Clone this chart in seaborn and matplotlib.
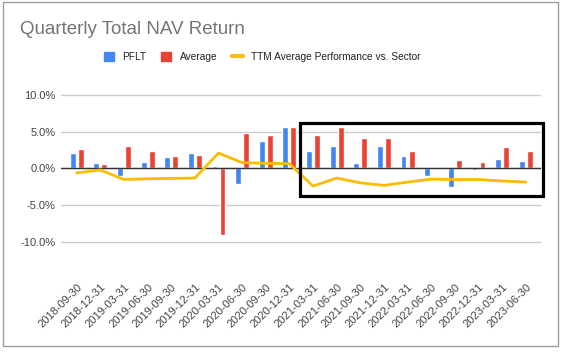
"""
Quarterly Total NAV Return - PFLT vs sector average
"""

import numpy as np
import pandas as pd
import matplotlib
matplotlib.use("Agg")
import matplotlib.pyplot as plt
import matplotlib.patches as mpatches
from matplotlib.lines import Line2D
from matplotlib.ticker import FuncFormatter
import seaborn as sns

BLUE = "#4285F4"
RED = "#EA4335"
YELLOW = "#FBBC04"
GRAY = "#444444"

quarters = ["2018-09-30", "2018-12-31", "2019-03-31", "2019-06-30", "2019-09-30",
            "2019-12-31", "2020-03-31", "2020-06-30", "2020-09-30", "2020-12-31",
            "2021-03-31", "2021-06-30", "2021-09-30", "2021-12-31", "2022-03-31",
            "2022-06-30", "2022-09-30", "2022-12-31", "2023-03-31", "2023-06-30"]
pflt = [2.1, 0.7, -1.0, 0.85, 1.55, 2.1, 0.3, -2.05, 3.7, 5.6,
        2.35, 3.1, 0.7, 3.05, 1.7, -1.0, -2.5, -0.2, 1.25, 1.0]
average = [2.7, 0.55, 3.1, 2.35, 1.7, 1.9, -9.1, 4.8, 4.5, 5.6,
           4.6, 5.6, 4.2, 4.1, 2.35, -0.1, 1.15, 0.85, 2.9, 2.35]
ttm_vs_sector = [-0.6, -0.2, -1.5, -1.4, -1.35, -1.3, 2.1, 0.8, 0.7, 0.65,
                 -2.4, -1.3, -1.95, -2.3, -1.85, -1.45, -1.5, -1.5, -1.7, -1.85]

df = pd.DataFrame({"quarter": quarters * 2,
                   "value": pflt + average,
                   "series": ["PFLT"] * len(quarters) + ["Average"] * len(quarters)})

sns.set_style("white")
plt.rcParams["font.family"] = ["Liberation Sans", "DejaVu Sans"]

fig = plt.figure(figsize=(5.62, 3.57), dpi=100)
ax = fig.add_axes([0.108, 0.3118, 0.854, 0.4325])

sns.barplot(data=df, x="quarter", y="value", hue="series", order=quarters,
            hue_order=["PFLT", "Average"], palette=[BLUE, RED],
            width=0.68, gap=0.27, legend=False, ax=ax, saturation=1)
sns.lineplot(x=np.arange(len(quarters)), y=ttm_vs_sector, color=YELLOW,
             linewidth=2, ax=ax)

ax.set_ylim(-10.5, 10.5)
ax.set_xlim(-0.677, 19.63)
ax.set_yticks([-10, -5, 0, 5, 10])
ax.yaxis.set_major_formatter(FuncFormatter(lambda v, p: f"{v:.1f}%"))
ax.grid(axis="y", color="#cccccc", linewidth=1)
ax.axhline(0, color="#333333", linewidth=1, zorder=1.5)
for s in ax.spines.values():
    s.set_visible(False)
ax.set_xlabel(""); ax.set_ylabel("")
ax.tick_params(axis="both", length=0, labelsize=8, colors=GRAY)
ax.tick_params(axis="x", pad=26)
plt.setp(ax.get_xticklabels(), rotation=45, ha="right", rotation_mode="anchor")

# highlight box over the recent quarters
ax.add_patch(mpatches.Rectangle((9.45, -3.73), 10.28, 9.89, fill=False,
                                edgecolor="black", linewidth=2.3, clip_on=False, zorder=5))

fig.text(20 / 562, 1 - 29 / 357, "Quarterly Total NAV Return", fontsize=13.5,
         color="#757575", va="center", ha="left")

handles = [mpatches.Patch(color=BLUE, label="PFLT"),
           mpatches.Patch(color=RED, label="Average"),
           Line2D([0], [0], color=YELLOW, linewidth=3, label="TTM Average Performance vs. Sector")]
fig.legend(handles=handles, loc="center", bbox_to_anchor=(262 / 562, 1 - 57 / 357),
           ncol=3, frameon=False, fontsize=7.3, handlelength=1.0, handleheight=1.0,
           handletextpad=0.8, columnspacing=1.5, labelcolor="#222222")

fig.add_artist(mpatches.Rectangle((3 / 562, 1 - 346 / 357), 555 / 562, 344 / 357,
                                  transform=fig.transFigure, fill=False,
                                  edgecolor="#9e9e9e", linewidth=1))

plt.savefig("out.png", dpi=100)
plt.close()
